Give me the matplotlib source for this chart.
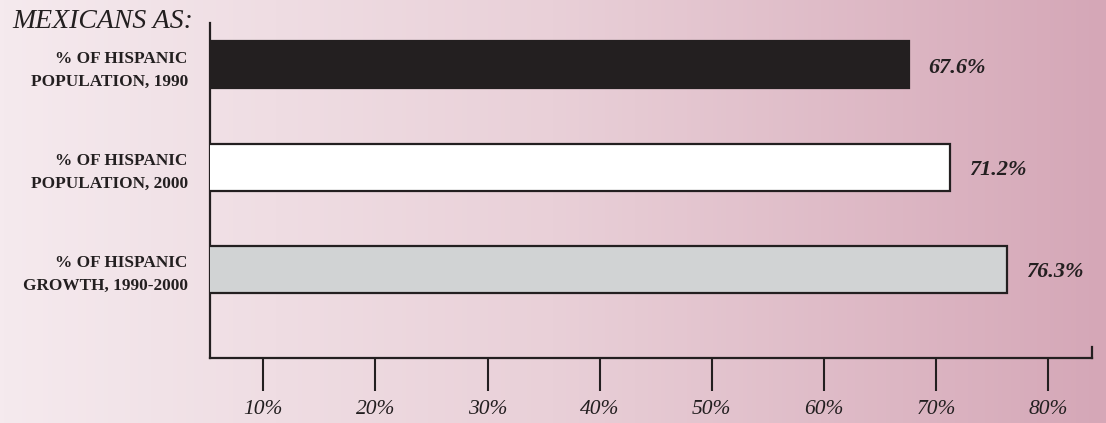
import numpy as np
import matplotlib.pyplot as plt
from matplotlib.colors import LinearSegmentedColormap

# data
categories = ['% OF HISPANIC\nPOPULATION, 1990',
              '% OF HISPANIC\nPOPULATION, 2000',
              '% OF HISPANIC\nGROWTH, 1990-2000']
values = [67.6, 71.2, 76.3]
value_labels = ['67.6%', '71.2%', '76.3%']
tick_values = [10, 20, 30, 40, 50, 60, 70, 80]
tick_labels = ['10%', '20%', '30%', '40%', '50%', '60%', '70%', '80%']

bar_colors = ['#231f20', '#ffffff', '#d1d3d4']
ink = '#231f20'
serif = ['Liberation Serif', 'DejaVu Serif']

W, H = 1106, 423
fig = plt.figure(figsize=(W / 100, H / 100), dpi=100)

# background gradient
bg = fig.add_axes([0, 0, 1, 1], zorder=-10)
cmap = LinearSegmentedColormap.from_list('bg', ['#f5eaee', '#e9d0d8', '#d5a7b7'])
bg.imshow(np.linspace(0, 1, 256)[None, :], aspect='auto', cmap=cmap,
          extent=[0, 1, 0, 1])
bg.set_axis_off()

# main axes (pixel box 210..1092 x 23..358)
ax = fig.add_axes([210 / W, (H - 358) / H, (1092 - 210) / W, (358 - 23) / H])
ax.patch.set_alpha(0)

y = np.arange(len(values))
ax.barh(y, values, height=0.46, color=bar_colors, edgecolor=ink, linewidth=1.6,
        zorder=3)
for yi, v, lab in zip(y, values, value_labels):
    ax.annotate(lab, (v, yi), xytext=(14, -2), textcoords='offset points',
                va='center', ha='left', fontsize=16, fontweight='bold',
                fontstyle='italic', family=serif, color=ink)

ax.set_xlim(5.25, 83.9)
ax.set_ylim(2.87, -0.41)

ax.set_xticks(tick_values)
ax.set_xticklabels(tick_labels, fontsize=15.5, fontstyle='italic', family=serif,
                   color=ink)
ax.tick_params(axis='x', direction='out', length=24, width=1.5, color=ink, pad=6)

ax.set_yticks(y)
ax.set_yticklabels(categories, fontsize=12.4, fontweight='bold', family=serif,
                   color=ink, linespacing=1.55)
ax.tick_params(axis='y', length=0, pad=16)

for s in ['top', 'right']:
    ax.spines[s].set_visible(False)
for s in ['left', 'bottom']:
    ax.spines[s].set_color(ink)
    ax.spines[s].set_linewidth(1.6)

# small end mark at the right end of the axis
ax.plot([1, 1], [0, 11 / 335], transform=ax.transAxes, color=ink, lw=1.6,
        clip_on=False)

fig.text(12 / W, 1 - 28 / H, 'MEXICANS AS:', fontsize=20, fontstyle='italic',
         family=serif, color=ink, va='baseline', ha='left')

fig.savefig('out.png', dpi=100)
